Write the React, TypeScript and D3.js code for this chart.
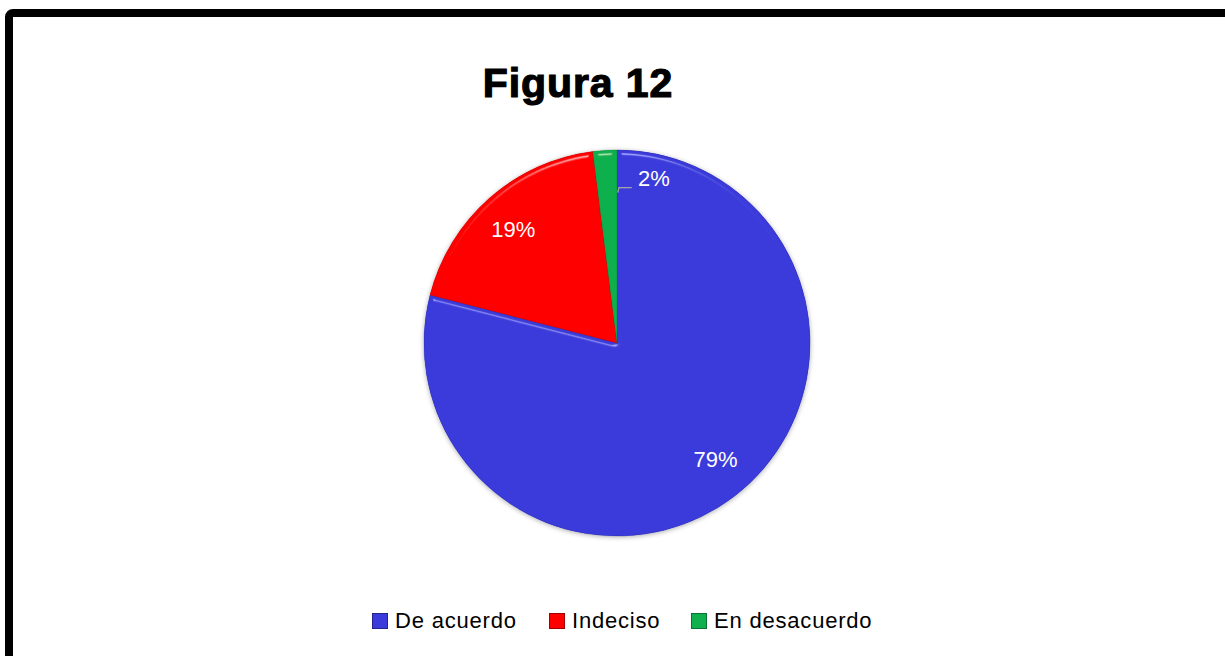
import React, { useEffect } from "react";
import * as d3 from "d3";

const categories = ["De acuerdo", "Indeciso", "En desacuerdo"];
const values = [79, 19, 2];
const labels = ["79%", "19%", "2%"];
const colors = ["#3B3BDB", "#FF0000", "#10B04E"];
const darkColors = ["#24248F", "#A00000", "#0A7034"];
const title = "Figura 12";

const W = 1225;
const H = 656;
const cx = 617;
const cy = 343;
const R = 193;
// label nudges (layout only)
const labelNudge: [number, number][] = [[5, -4], [-3, 0], [0, 0]];

export default function App() {
  useEffect(() => {
    document.body.style.margin = "0";
  }, []);

  const pie = d3
    .pie<number>()
    .sort(null)
    .value((d) => d)
    .startAngle(0)
    .endAngle(2 * Math.PI);
  const arcs = pie(values);
  const arc = d3.arc<d3.PieArcDatum<number>>().innerRadius(0).outerRadius(R);
  const labelArc = d3
    .arc<d3.PieArcDatum<number>>()
    .innerRadius(R * 0.79)
    .outerRadius(R * 0.79);

  const legendX = [372, 549, 691];

  return (
    <svg
      width={W}
      height={H}
      style={{ position: "absolute", left: 0, top: 0, background: "#fff" }}
      fontFamily="'Liberation Sans', Arial, sans-serif"
    >
      <defs>
        <filter id="bevel" x="-10%" y="-10%" width="120%" height="120%">
          <feGaussianBlur in="SourceAlpha" stdDeviation="2.5" result="blur" />
          <feSpecularLighting
            in="blur"
            surfaceScale="4"
            specularConstant="0.8"
            specularExponent="90"
            lightingColor="#ffffff"
            result="spec"
          >
            <feDistantLight azimuth="265" elevation="45" />
          </feSpecularLighting>
          <feComposite in="spec" in2="SourceAlpha" operator="in" result="specIn" />
          <feComposite
            in="SourceGraphic"
            in2="specIn"
            operator="arithmetic"
            k1="0"
            k2="1"
            k3="0.45"
            k4="0"
          />
        </filter>
        <filter id="shadow" x="-10%" y="-10%" width="120%" height="120%">
          <feDropShadow dx="0" dy="1" stdDeviation="2.5" floodColor="#000" floodOpacity="0.35" />
        </filter>
      </defs>

      {/* outer frame */}
      <rect
        x={9}
        y={13}
        width={1212 + 8}
        height={700}
        rx={4}
        fill="none"
        stroke="#000"
        strokeWidth={8}
      />

      {/* title */}
      <text
        x={578}
        y={97}
        textAnchor="middle"
        fontSize={41}
        fontWeight="bold"
        letterSpacing={0.9}
        stroke="#000"
        strokeWidth={1.2}
        fill="#000"
      >
        {title}
      </text>

      {/* pie */}
      <g transform={`translate(${cx},${cy})`}>
        <g filter="url(#shadow)">
          {arcs.map((a, i) => (
            <path key={"s" + i} d={arc(a) || ""} fill={colors[i]} />
          ))}
        </g>
        {arcs.map((a, i) => (
          <path
            key={i}
            d={arc(a) || ""}
            fill={colors[i]}
            stroke={darkColors[i]}
            strokeWidth={0.6}
            strokeOpacity={0.5}
            filter="url(#bevel)"
          />
        ))}
        {arcs.map((a, i) => {
          if (i === 2) return null;
          const [lx, ly] = labelArc.centroid(a);
          return (
            <text
              key={"l" + i}
              x={lx + labelNudge[i][0]}
              y={ly + 8 + labelNudge[i][1]}
              textAnchor="middle"
              fontSize={22}
              fill="#fff"
            >
              {labels[i]}
            </text>
          );
        })}
        {/* small slice label with leader line */}
        <polyline
          points={`${0.7},${-150.3} ${2},${-155.3} ${14.7},${-155.3}`}
          fill="none"
          stroke="#A6A6A6"
          strokeWidth={1.3}
        />
        <text x={21} y={-157} fontSize={22} fill="#fff">
          {labels[2]}
        </text>
      </g>

      {/* legend */}
      {categories.map((c, i) => (
        <g key={"lg" + i}>
          <rect
            x={legendX[i] + 0.5}
            y={613.5}
            width={15}
            height={15}
            fill={colors[i]}
            stroke={darkColors[i]}
            strokeWidth={1}
          />
          <text
            x={legendX[i] + 23}
            y={628}
            fontSize={22}
            letterSpacing={0.8}
            fill="#000"
          >
            {c}
          </text>
        </g>
      ))}
    </svg>
  );
}
